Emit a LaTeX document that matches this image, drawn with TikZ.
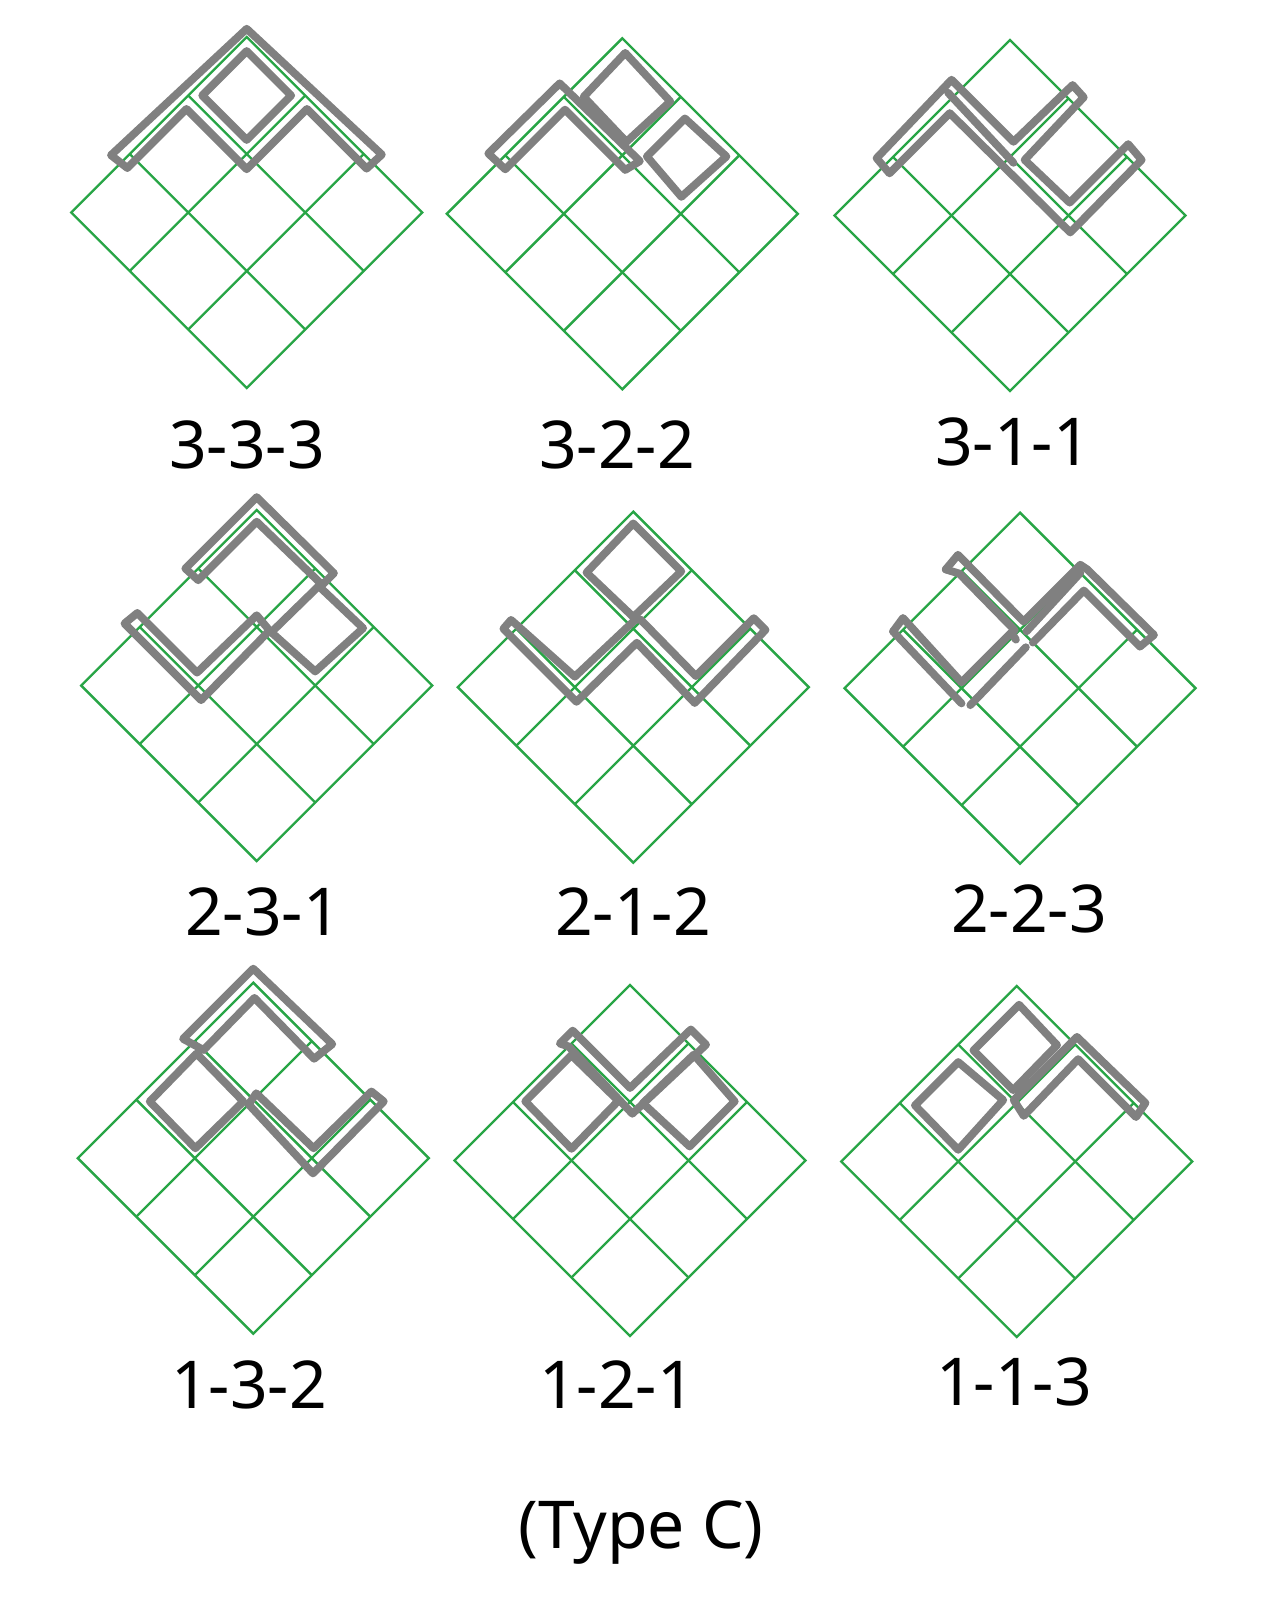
\documentclass[tikz,border=0pt]{standalone}
\usepackage{fontspec}
\newfontfamily\labfont{Noto Sans}
\definecolor{gridgreen}{RGB}{40,165,70}
\definecolor{piecegray}{RGB}{128,128,128}
\tikzset{
  dia/.style={shift={#1}, x={(29.25pt,-29.25pt)}, y={(-29.25pt,-29.25pt)}},
  grn/.style={draw=gridgreen, line width=1.2pt},
  pc/.style={draw=piecegray, line width=3.9pt, line join=round, line cap=round},
  lab/.style={font=\labfont\fontsize{33}{40}\selectfont, anchor=base, inner sep=0pt},
}
\newcommand\dgrid{%
  \draw[grn] (0,0) -- (3,0) -- (3,3) -- (0,3) -- cycle;
  \foreach \k in {1,2} {\draw[grn] (\k,0) -- (\k,3); \draw[grn] (0,\k) -- (3,\k);}
}
\begin{document}
\begin{tikzpicture}[x=0.5pt,y=-0.5pt]
\useasboundingbox[fill=white] (0,0) rectangle (1280,1615);

% ---- 3-3-3
\begin{scope}[dia={(246.7,37)}]
\dgrid
\draw[pc] (0.12,0.12) -- (0.88,0.12) -- (0.88,0.88) -- (0.12,0.88) -- cycle;
\draw[pc] (-0.15,2.17) -- (-0.07,-0.07) -- (2.16,-0.15) -- (2.15,0.1) -- (1.13,0.1) -- (1.13,1.13) -- (0.1,1.13) -- (0.1,2.14) -- cycle;
\end{scope}
% ---- 3-2-2
\begin{scope}[dia={(622.3,38.3)}]
\dgrid
\draw[pc] (0.15,0.1) -- (0.95,0.13) -- (0.92,0.85) -- (0.17,0.83) -- cycle;
\draw[pc] (1.22,0.15) -- (1.9,0.12) -- (1.86,0.85) -- (1.22,0.8) -- cycle;
\draw[pc] (-0.16,2.13) -- (-0.15,0.92) -- (1.2,0.9) -- (1.15,1.1) -- (0.12,1.1) -- (0.12,2.12) -- cycle;
\end{scope}
% ---- 3-1-1
\begin{scope}[dia={(1010,40)}]
\dgrid
\draw[pc] (-0.13,2.15) -- (-0.16,0.84) -- (0.9,0.84) -- (0.92,-0.15) -- (1.12,-0.14) -- (1.15,0.9) -- (1.9,0.88) -- (1.9,-0.12) -- (2.15,-0.1) -- (2.16,1.13) -- (0.11,1.14) -- (0.11,2.17) -- cycle;
\draw[pc] (-0.08,0.98) -- (1.08,1.02);
\end{scope}
% ---- 2-3-1
\begin{scope}[dia={(256.7,510)}]
\dgrid
\draw[pc] (-0.11,1.11) -- (-0.11,-0.11) -- (1.2,-0.12) -- (1.2,0.08) -- (0.1,0.1) -- (0.1,1.1) -- cycle;
\draw[pc] (1.18,0.12) -- (1.92,0.1) -- (1.88,0.88) -- (1.17,0.92) -- cycle;
\draw[pc] (-0.16,2.1) -- (-0.14,1.9) -- (0.88,1.9) -- (0.9,0.9) -- (1.14,0.92) -- (1.15,2.1) -- cycle;
\end{scope}
% ---- 2-1-2
\begin{scope}[dia={(633.3,511.7)}]
\dgrid
\draw[pc] (0.1,0.1) -- (0.92,0.1) -- (0.9,0.9) -- (0.12,0.92) -- cycle;
\draw[pc] (-0.12,1.97) -- (0.91,1.91) -- (0.94,0.91) -- (0.98,0.86) -- (1.94,0.87) -- (1.94,-0.12) -- (2.14,-0.12) -- (2.16,1.11) -- (1.15,1.09) -- (1.14,2.11) -- (-0.11,2.11) -- cycle;
\end{scope}
% ---- 2-2-3
\begin{scope}[dia={(1020,512.7)}]
\dgrid
\draw[pc] (-0.15,1.12) -- (-0.17,0.89) -- (0.96,0.9) -- (0.96,-0.07) -- (1.06,-0.09) -- (2.19,-0.1) -- (2.17,0.12) -- (1.21,0.12) -- (1.22,1.0);
\draw[pc] (-0.15,1.12) -- (0.0,1.04) -- (0.96,1.05);
\draw[pc] (1.03,0.0) -- (1.07,0.96);
\draw[pc] (-0.07,2.1) -- (-0.1,1.9) -- (0.95,1.95) -- (0.95,1.1) -- (1.05,1.12);
\draw[pc] (-0.07,2.1) -- (1.13,2.13);
\draw[pc] (1.22,2.07) -- (1.2,1.1);
\end{scope}
% ---- 1-3-2
\begin{scope}[dia={(253.3,982.7)}]
\dgrid
\draw[pc] (-0.12,1.08) -- (-0.12,-0.12) -- (1.2,-0.15) -- (1.17,0.13) -- (0.14,0.12) -- (0.15,1.0) -- cycle;
\draw[pc] (0.12,1.09) -- (0.93,1.1) -- (0.92,1.91) -- (0.13,1.9) -- cycle;
\draw[pc] (0.97,0.92) -- (1.93,0.9) -- (1.94,-0.08) -- (2.13,-0.1) -- (2.14,1.12) -- (1.0,1.08) -- cycle;
\end{scope}
% ---- 1-2-1
\begin{scope}[dia={(630,985)}]
\dgrid
\draw[pc] (0.1,1.1) -- (0.89,1.09) -- (0.9,1.9) -- (0.1,1.89) -- cycle;
\draw[pc] (1.14,0.05) -- (1.89,0.1) -- (1.89,0.87) -- (1.12,0.9) -- cycle;
\draw[pc] (-0.1,1.1) -- (-0.1,0.88) -- (0.88,0.88) -- (0.9,-0.14) -- (1.16,-0.14) -- (1.12,1.08) -- (0.0,1.05) -- cycle;
\end{scope}
% ---- 1-1-3
\begin{scope}[dia={(1016.7,986)}]
\dgrid
\draw[pc] (0.18,0.14) -- (0.85,0.16) -- (0.86,0.92) -- (0.18,0.92) -- cycle;
\draw[pc] (0.15,1.15) -- (0.86,1.09) -- (0.9,1.9) -- (0.15,1.89) -- cycle;
\draw[pc] (0.95,1.0) -- (0.95,-0.08) -- (2.1,-0.1) -- (2.14,0.1) -- (1.15,0.1) -- (1.17,1.05) -- cycle;
\end{scope}

% ---- labels
\node[lab] (l333) at (247,468) {3-3-3};
\node[lab] (l322) at (617,468) {3-2-2};
\node[lab] (l311) at (1013,465) {3-1-1};
\node[lab] (l231) at (263,935) {2-3-1};
\node[lab] (l212) at (633,935) {2-1-2};
\node[lab] (l223) at (1029,932) {2-2-3};
\node[lab] (l132) at (249,1408) {1-3-2};
\node[lab] (l121) at (617,1408) {1-2-1};
\node[lab] (l113) at (1014,1405) {1-1-3};
\node[lab] (type) at (641,1548) {(Type C)};
\end{tikzpicture}
\end{document}
